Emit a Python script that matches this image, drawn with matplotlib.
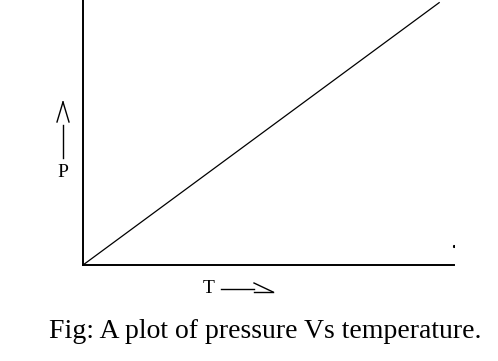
import matplotlib
matplotlib.use("Agg")
import matplotlib.pyplot as plt
from matplotlib.lines import Line2D

# data
temperature = [0, 96]
pressure = [0, 99]
stray_dot_t = [100]
stray_dot_p = [7]
caption = "Fig: A plot of pressure Vs temperature."

W, H = 498, 361
fig = plt.figure(figsize=(W / 100, H / 100), dpi=100)
plt.rcParams['font.family'] = ['Liberation Serif', 'DejaVu Serif']


def px(x, y):
    return x / W, 1 - y / H


# axes box in pixels: left 83, right 454, top 0, bottom 265
x0, y0 = px(83, 265)
x1, y1 = px(454, 0)
ax = fig.add_axes([x0, y0, x1 - x0, y1 - y0])
ax.plot(temperature, pressure, color='black', lw=0.9)
ax.plot(stray_dot_t, stray_dot_p, 's', color='black', ms=1.2)
ax.set_xlim(0, 100)
ax.set_ylim(0, 100)
for s in ['top', 'right']:
    ax.spines[s].set_visible(False)
for s in ['left', 'bottom']:
    ax.spines[s].set_linewidth(1.4)
ax.set_xticks([])
ax.set_yticks([])
ax.patch.set_alpha(0)


def seg(a, b, lw=1.0):
    xa, ya = px(*a)
    xb, yb = px(*b)
    fig.add_artist(Line2D([xa, xb], [ya, yb], color='black', lw=lw,
                          transform=fig.transFigure))


# P arrow
seg((57, 122), (63, 102))
seg((63, 102), (69, 122))
seg((63, 125), (63, 158))
fig.text(*px(63, 177), "P", ha='center', va='baseline', fontsize=14)

# T arrow
fig.text(*px(209, 293), "T", ha='center', va='baseline', fontsize=14)
seg((221, 289), (254, 289))
seg((254, 283), (273, 292))
seg((254, 292), (273, 292))

fig.text(*px(265, 338), caption, ha='center', va='baseline', fontsize=20)

fig.savefig("out.png", dpi=100)
